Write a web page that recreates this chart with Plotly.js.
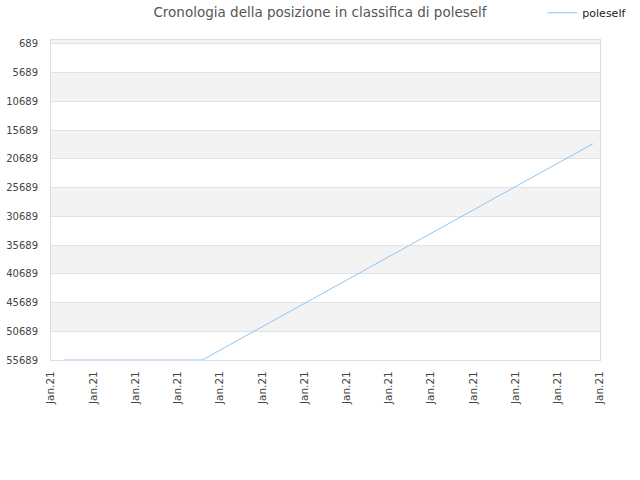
<!DOCTYPE html>
<html>
<head>
<meta charset="utf-8">
<script src="https://cdn.plot.ly/plotly-3.0.1.min.js"></script>
<style>
  html, body { margin: 0; padding: 0; background: #fff; }
  #chart { width: 640px; height: 480px; }
</style>
</head>
<body>
<div id="chart"></div>
<script>
// x positions in tick units (0 = first "Jan.21" tick)
var dayPos = [0.31, 3.58, 12.83];
var rankPos = [55689, 55689, 18067];

var tickPos = [0, 1, 2, 3, 4, 5, 6, 7, 8, 9, 10, 11, 12, 13];
var tickLabels = tickPos.map(function () { return 'Jan.21'; });
var rankTicks = [689, 5689, 10689, 15689, 20689, 25689, 30689, 35689, 40689, 45689, 50689, 55689];

// alternating gray bands, starting with the one above 689
var bandEdges = [0].concat(rankTicks);
var shapes = [];
for (var i = 0; i < bandEdges.length - 1; i += 2) {
  shapes.push({
    type: 'rect', xref: 'paper', yref: 'y',
    x0: 0, x1: 1, y0: bandEdges[i], y1: bandEdges[i + 1],
    fillcolor: '#f3f3f3', line: { width: 0 }, layer: 'below'
  });
}

var trace = {
  x: dayPos,
  y: rankPos,
  mode: 'lines',
  name: 'poleself',
  line: { color: '#90c4f3', width: 1 }
};

var layout = {
  width: 640,
  height: 480,
  margin: { l: 51, r: 40, t: 40, b: 120, autoexpand: false },
  paper_bgcolor: '#fff',
  plot_bgcolor: '#fff',
  font: { family: 'DejaVu Sans', size: 11, color: '#444' },
  title: {
    text: 'Cronologia della posizione in classifica di poleself',
    font: { family: 'DejaVu Sans', size: 13.5, color: '#555' },
    x: 0.5, xanchor: 'center', y: 0.975, yanchor: 'middle'
  },
  showlegend: true,
  legend: {
    x: 0.895, xanchor: 'left', y: 1.085, yanchor: 'middle',
    itemwidth: 30,
    font: { family: 'DejaVu Sans', size: 11, color: '#222' },
    bgcolor: 'rgba(0,0,0,0)'
  },
  xaxis: {
    range: [0, 13],
    tickmode: 'array',
    tickvals: tickPos,
    ticktext: tickLabels,
    tickangle: -90,
    showgrid: false,
    zeroline: false,
    showline: true,
    mirror: true,
    linecolor: '#dddddd',
    linewidth: 1,
    ticks: '',
    ticklabelstandoff: 6,
    tickfont: { size: 10.5, color: '#444' }
  },
  yaxis: {
    range: [55689, 0],
    tickmode: 'array',
    tickvals: rankTicks,
    ticktext: rankTicks.map(String),
    showgrid: true,
    gridcolor: '#e3e3e3',
    zeroline: false,
    showline: true,
    mirror: true,
    linecolor: '#dddddd',
    linewidth: 1,
    ticks: '',
    ticklabelstandoff: 10,
    tickfont: { size: 10, color: '#444' }
  },
  shapes: shapes
};

Plotly.newPlot('chart', [trace], layout, { displayModeBar: false, staticPlot: true });
</script>
</body>
</html>
